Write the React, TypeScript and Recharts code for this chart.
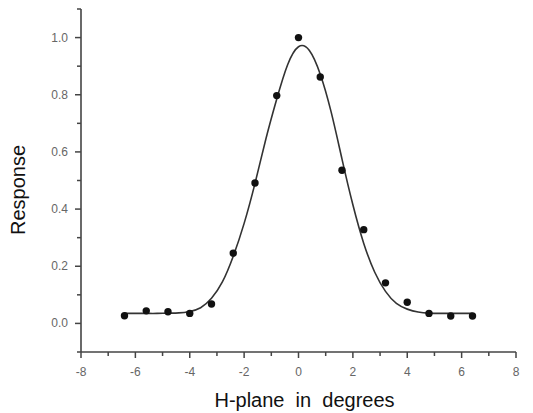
import React from "react";
import {
  ComposedChart,
  Line,
  Scatter,
  XAxis,
  YAxis,
  Label,
} from "recharts";

// measured response (dots)
const pointX = [-6.4, -5.6, -4.8, -4.0, -3.2, -2.4, -1.6, -0.8, 0, 0.8, 1.6, 2.4, 3.2, 4.0, 4.8, 5.6, 6.4];
const pointY = [0.027, 0.044, 0.041, 0.035, 0.068, 0.246, 0.491, 0.797, 1.0, 0.862, 0.536, 0.328, 0.142, 0.074, 0.035, 0.026, 0.026];

// fitted curve
const curveX = [
  -6.4, -6.0, -5.6, -5.2, -4.8, -4.4, -4.0, -3.6, -3.2, -2.8, -2.4, -2.0, -1.6, -1.2, -0.8, -0.4, 0.0,
  0.4, 0.8, 1.2, 1.6, 2.0, 2.4, 2.8, 3.2, 3.6, 4.0, 4.4, 4.8, 5.2, 5.6, 6.0, 6.4,
];
const curveY = [
  0.035, 0.035, 0.035, 0.035, 0.036, 0.037, 0.042, 0.055, 0.088, 0.145, 0.235, 0.35, 0.49, 0.645, 0.785, 0.905, 0.968,
  0.955, 0.872, 0.74, 0.575, 0.415, 0.28, 0.18, 0.112, 0.07, 0.05, 0.04, 0.036, 0.035, 0.035, 0.035, 0.035,
];

const xTicks = [-8, -7, -6, -5, -4, -3, -2, -1, 0, 1, 2, 3, 4, 5, 6, 7, 8];
const yTicks = [-0.1, 0, 0.1, 0.2, 0.3, 0.4, 0.5, 0.6, 0.7, 0.8, 0.9, 1.0, 1.1];

const points = pointX.map((x, i) => ({ x, y: pointY[i] }));
const curve = curveX.map((x, i) => ({ x, y: curveY[i] }));

const FONT = "'Liberation Sans', Arial, sans-serif";
const AXIS = "#444";

const XTick = (props: any) => {
  const { x, y, payload } = props;
  const major = payload.value % 2 === 0;
  return (
    <g>
      <line x1={x} y1={y} x2={x} y2={y + (major ? 6 : 4)} stroke={AXIS} strokeWidth={1.5} />
      {major && (
        <text x={x} y={y + 24} textAnchor="middle" fontSize={12} fill="#666" fontFamily={FONT}>
          {payload.value}
        </text>
      )}
    </g>
  );
};

const YTick = (props: any) => {
  const { x, y, payload } = props;
  const major = Math.round(payload.value * 10) % 2 === 0;
  return (
    <g>
      <line x1={x - (major ? 6 : 4)} y1={y} x2={x} y2={y} stroke={AXIS} strokeWidth={1.5} />
      {major && (
        <text x={x - 13} y={y + 4} textAnchor="end" fontSize={12} fill="#666" fontFamily={FONT}>
          {payload.value.toFixed(1)}
        </text>
      )}
    </g>
  );
};

const dot = (p: any) => <circle cx={p.cx} cy={p.cy} r={3.7} fill="#111" />;

export default function App() {
  return (
    <div style={{ position: "absolute", left: 0, top: 0, background: "#fff" }}>
      <ComposedChart width={533} height={413} margin={{ top: 9, right: 17, bottom: 0, left: 0 }}>
        <XAxis
          type="number"
          dataKey="x"
          domain={[-8, 8]}
          ticks={xTicks}
          interval={0}
          allowDataOverflow
          height={61}
          tickSize={0}
          tickMargin={0}
          tick={<XTick />}
          axisLine={{ stroke: AXIS, strokeWidth: 1.6 }}
        >
          <Label
            value={"H-plane\u00a0 in\u00a0 degrees"}
            position="insideBottom"
            offset={6}
            dx={6}
            style={{ fontSize: 20, fill: "#111", fontFamily: FONT }}
          />
        </XAxis>
        <YAxis
          type="number"
          dataKey="y"
          domain={[-0.1, 1.1]}
          ticks={yTicks}
          interval={0}
          allowDataOverflow
          width={81}
          tickSize={0}
          tickMargin={0}
          tick={<YTick />}
          axisLine={{ stroke: AXIS, strokeWidth: 1.6 }}
        >
          <Label
            content={() => (
              <text
                x={25}
                y={190}
                transform="rotate(-90, 25, 190)"
                textAnchor="middle"
                fontSize={20}
                fill="#111"
                fontFamily={FONT}
              >
                Response
              </text>
            )}
          />
        </YAxis>
        <Line
          data={curve}
          dataKey="y"
          type="natural"
          stroke="#333"
          strokeWidth={1.6}
          dot={false}
          activeDot={false}
          isAnimationActive={false}
        />
        <Scatter data={points} dataKey="y" shape={dot} isAnimationActive={false} />
      </ComposedChart>
    </div>
  );
}
